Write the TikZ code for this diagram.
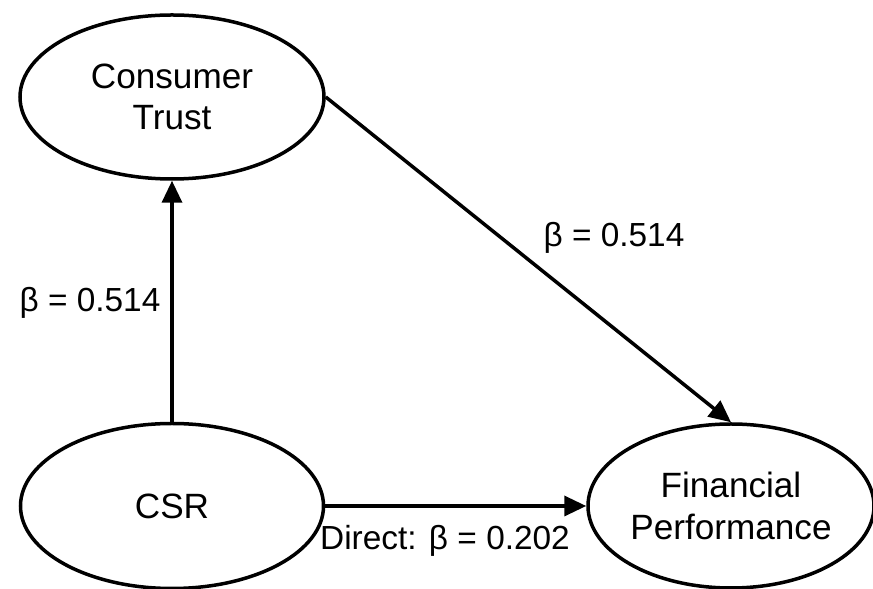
\documentclass[tikz,border=0pt]{standalone}
\usepackage{fontspec}
\setmainfont{Liberation Sans}
\usetikzlibrary{arrows.meta,shapes.geometric}

\begin{document}
\begin{tikzpicture}[
		latent/.style={draw, ellipse, line width=0.07cm, inner sep=0pt, align=center,
			font=\fontsize{20}{23.5}\selectfont},
		coef/.style={font=\fontsize{19}{22}\selectfont},
		path/.style={line width=0.07cm, -{Triangle[length=0.44cm, width=0.4cm]}}
	]
				\useasboundingbox (0,0) rectangle (17.46,11.78);

				\node[latent, minimum width=6.08cm, minimum height=3.28cm] (trust) at (3.44,9.84) {Consumer\\Trust};
				\node[latent, minimum width=6.06cm, minimum height=3.3cm] (csr) at (3.44,1.66) {CSR};
				\node[latent, minimum width=5.72cm, minimum height=3.28cm] (perf) at (14.62,1.66) {Financial\\Performance};

				\draw[path] (csr.north) -- (trust.south);
				\draw[path] (trust.east) -- (perf.north);
				\draw[path] (csr.east) -- (perf.west);

				\node[coef] (b1) at (1.8,5.72) {β = 0.514};
				\node[coef] (b2) at (12.28,7.02) {β = 0.514};
				\node[coef] (b3) at (8.9,0.96) {Direct: β = 0.202};
		\end{tikzpicture}
\end{document}
